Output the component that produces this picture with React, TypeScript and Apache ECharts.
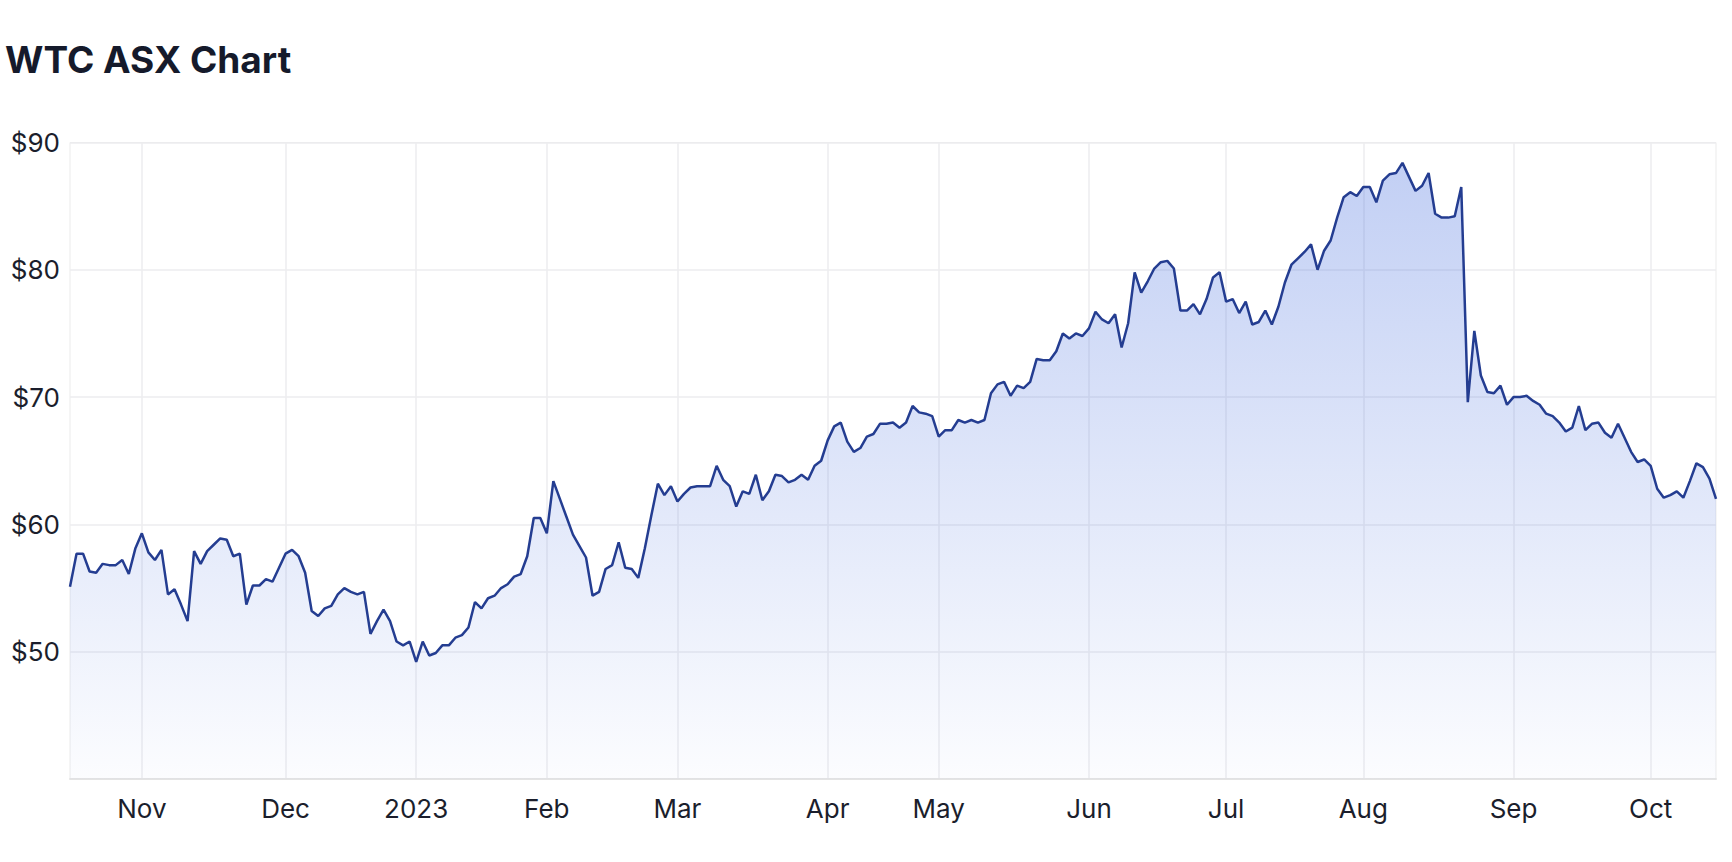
import React, { useEffect, useRef } from "react";
import * as echarts from "echarts";

// Closing prices (A$) per trading day, grouped by month
const oct22 = [55.1, 57.7, 57.7, 56.3, 56.2, 56.9, 56.8, 56.8, 57.2, 56.1, 58.1];
const nov22 = [59.3, 57.8, 57.2, 58.0, 54.5, 54.9, 53.7, 52.4, 57.9, 56.9, 57.9, 58.4, 58.9, 58.8, 57.5, 57.7, 53.7, 55.2, 55.2, 55.7, 55.5, 56.6];
const dec22 = [57.7, 58.0, 57.5, 56.2, 53.2, 52.8, 53.4, 53.6, 54.5, 55.0, 54.7, 54.5, 54.7, 51.4, 52.4, 53.3, 52.4, 50.8, 50.5, 50.8];
const jan23 = [49.2, 50.8, 49.7, 49.9, 50.5, 50.5, 51.1, 51.3, 51.9, 53.9, 53.4, 54.2, 54.4, 55.0, 55.3, 55.9, 56.1, 57.5, 60.5, 60.5];
const feb23 = [59.3, 63.4, 62.0, 60.6, 59.2, 58.3, 57.4, 54.4, 54.7, 56.5, 56.8, 58.6, 56.6, 56.5, 55.8, 58.1, 60.7, 63.2, 62.3, 63.0];
const mar23 = [61.8, 62.4, 62.9, 63.0, 63.0, 63.0, 64.6, 63.5, 63.0, 61.4, 62.6, 62.4, 63.9, 61.9, 62.6, 63.9, 63.8, 63.3, 63.5, 63.9, 63.5, 64.6, 65.0];
const apr23 = [66.6, 67.7, 68.0, 66.5, 65.7, 66.0, 66.9, 67.1, 67.9, 67.9, 68.0, 67.6, 68.0, 69.3, 68.8, 68.7, 68.5];
const may23 = [66.9, 67.4, 67.4, 68.2, 68.0, 68.2, 68.0, 68.2, 70.3, 71.0, 71.2, 70.1, 70.9, 70.7, 71.2, 73.0, 72.9, 72.9, 73.6, 75.0, 74.6, 75.0, 74.8];
const jun23 = [75.4, 76.7, 76.1, 75.8, 76.5, 73.9, 75.8, 79.8, 78.2, 79.1, 80.1, 80.6, 80.7, 80.1, 76.8, 76.8, 77.3, 76.5, 77.7, 79.4, 79.8];
const jul23 = [77.5, 77.7, 76.6, 77.5, 75.7, 75.9, 76.8, 75.7, 77.1, 79.0, 80.4, 80.9, 81.4, 82.0, 80.0, 81.5, 82.3, 84.1, 85.7, 86.1, 85.8];
const aug23 = [86.5, 86.5, 85.3, 87.0, 87.5, 87.6, 88.4, 87.3, 86.2, 86.6, 87.6, 84.4, 84.1, 84.1, 84.2, 86.5, 69.6, 75.2, 71.7, 70.4, 70.3, 70.9, 69.4];
const sep23 = [70.0, 70.0, 70.1, 69.7, 69.4, 68.7, 68.5, 68.0, 67.3, 67.6, 69.3, 67.4, 67.9, 68.0, 67.2, 66.8, 67.9, 66.8, 65.7, 64.9, 65.1];
const oct23 = [64.6, 62.8, 62.1, 62.3, 62.6, 62.1, 63.4, 64.8, 64.5, 63.6, 62.0];

const monthValues = [oct22, nov22, dec22, jan23, feb23, mar23, apr23, may23, jun23, jul23, aug23, sep23, oct23];
// Label shown at the first trading day of each month ("" = partial first month, no label)
const monthLabels = ["", "Nov", "Dec", "2023", "Feb", "Mar", "Apr", "May", "Jun", "Jul", "Aug", "Sep", "Oct"];

const yTicks = [50, 60, 70, 80, 90];

export default function App() {
  const ref = useRef<HTMLDivElement>(null);

  useEffect(() => {
    if (!ref.current) return;
    const chart = echarts.init(ref.current, undefined, { renderer: "svg" });

    const categories: string[] = [];
    const labelOf: Record<string, string> = {};
    const values: number[] = [];
    monthValues.forEach((arr, m) => {
      arr.forEach((v, i) => {
        const key = `${m}-${i}`;
        categories.push(key);
        labelOf[key] = i === 0 ? monthLabels[m] : "";
        values.push(v);
      });
    });
    const isMonthStart = (_idx: number, val: string) => !!labelOf[val];

    const font = "Inter, 'Noto Sans', sans-serif";

    chart.setOption({
      animation: false,
      title: {
        text: "WTC ASX Chart",
        left: 0,
        top: 36,
        textStyle: { fontFamily: font, fontSize: 37, fontWeight: 700, color: "#151a2b" },
      },
      grid: {
        left: 70,
        right: 16,
        top: 142.5,
        bottom: 83,
        show: true,
        borderColor: "#ebebeb",
        borderWidth: 1,
        backgroundColor: "transparent",
      },
      xAxis: {
        type: "category",
        data: categories,
        boundaryGap: false,
        axisLine: { show: true, lineStyle: { color: "#e4e4e4", width: 2 } },
        axisTick: { show: false },
        axisLabel: {
          interval: isMonthStart,
          formatter: (val: string) => labelOf[val] || "",
          color: "#1b1e2c",
          fontFamily: font,
          fontSize: 26,
          margin: 16,
        },
        splitLine: { show: true, interval: isMonthStart, lineStyle: { color: "#ececef", width: 1.5 } },
      },
      yAxis: {
        type: "value",
        min: 40,
        max: 90,
        interval: 10,
        axisLine: { show: false },
        axisTick: { show: false },
        axisLabel: {
          showMinLabel: false,
          formatter: (v: number) => (yTicks.includes(v) ? `$${v}` : ""),
          color: "#1b1e2c",
          fontFamily: font,
          fontSize: 26,
          margin: 10,
        },
        splitLine: { show: true, lineStyle: { color: "#ececef", width: 1.5 } },
      },
      series: [
        {
          type: "line",
          data: values,
          symbol: "none",
          lineStyle: { color: "#243d91", width: 2.5 },
          areaStyle: {
            color: new echarts.graphic.LinearGradient(0, 0, 0, 1, [
              { offset: 0, color: "rgba(62,104,221,0.45)" },
              { offset: 1, color: "rgba(62,104,221,0.025)" },
            ]),
          },
        },
      ],
    });

    return () => chart.dispose();
  }, []);

  return (
    <div
      ref={ref}
      style={{ position: "absolute", left: 0, top: 0, width: 1732, height: 862, background: "#ffffff" }}
    />
  );
}
